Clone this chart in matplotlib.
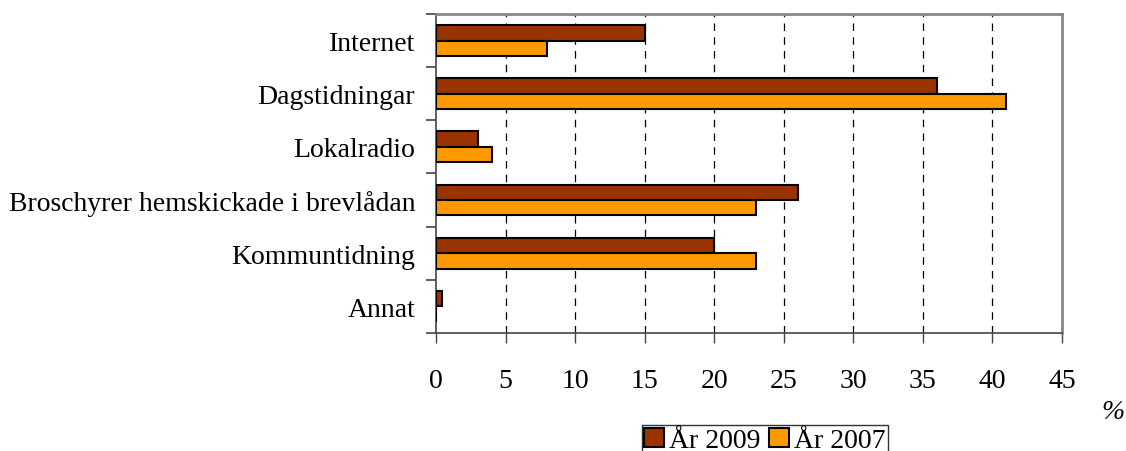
import numpy as np
import matplotlib
matplotlib.use("Agg")
import matplotlib.pyplot as plt
from matplotlib.patches import Patch

# --------------------------------------
# Data
# --------------------------------------
categories = [
    "Internet",
    "Dagstidningar",
    "Lokalradio",
    "Broschyrer hemskickade i brevlådan",
    "Kommuntidning",
    "Annat",
]
values_2009 = [15, 36, 3, 26, 20, 0.4]
values_2007 = [8, 41, 4, 23, 23, 0]
series_labels = ["År 2009", "År 2007"]
colors = ["#993300", "#FF9900"]
x_ticks = [0, 5, 10, 15, 20, 25, 30, 35, 40, 45]

plt.rcParams["font.family"] = ["Liberation Serif", "DejaVu Serif"]
plt.rcParams["font.size"] = 20

fig = plt.figure(figsize=(11.26, 4.52), dpi=100)
ax = fig.add_axes([0.3872, 0.2611, 0.9432 - 0.3872, 0.9668 - 0.2611])

n = len(categories)
y = np.arange(n)
h = 0.29

ax.barh(y - h / 2, values_2009, height=h, color=colors[0],
        edgecolor="black", linewidth=1.5, zorder=3)
ax.barh(y + h / 2, values_2007, height=h, color=colors[1],
        edgecolor="black", linewidth=1.5, zorder=3)

ax.set_xlim(0, 45)
ax.set_ylim(n - 0.5, -0.5)

# y: labels at centres, tick marks at category boundaries
ax.set_yticks(y)
ax.set_yticklabels(categories)
ax.set_yticks(np.arange(n + 1) - 0.5, minor=True)
ax.tick_params(axis="y", which="major", length=0, pad=15)
ax.tick_params(axis="y", which="minor", length=7, width=1.2, color="#444444")

ax.set_xticks(x_ticks)
ax.tick_params(axis="x", length=7, width=1, color="#444444", pad=18)

# dashed vertical grid
for xv in x_ticks[1:-1]:
    ax.axvline(xv, color="black", linestyle=(0, (6, 5)), linewidth=0.9, zorder=1)

for side in ("left", "bottom"):
    ax.spines[side].set_color("#444444")
    ax.spines[side].set_linewidth(1.2)
for side in ("top", "right"):
    ax.spines[side].set_color("#888888")
    ax.spines[side].set_linewidth(2)

fig.text(1113 / 1126, 1 - 413 / 452, "%", fontstyle="italic", ha="center",
         va="center", fontsize=20)

handles = [Patch(facecolor=c, edgecolor="black", linewidth=1.5) for c in colors]
leg = fig.legend(handles, series_labels, loc="upper center",
                 bbox_to_anchor=(765 / 1126, 1 - 426 / 452), ncol=2,
                 frameon=True, fancybox=False, edgecolor="black",
                 handlelength=0.7, handleheight=0.7, handletextpad=0.2,
                 columnspacing=0.3, borderpad=0.1, borderaxespad=0)
leg.get_frame().set_linewidth(1)

fig.savefig("out.png", dpi=100)
